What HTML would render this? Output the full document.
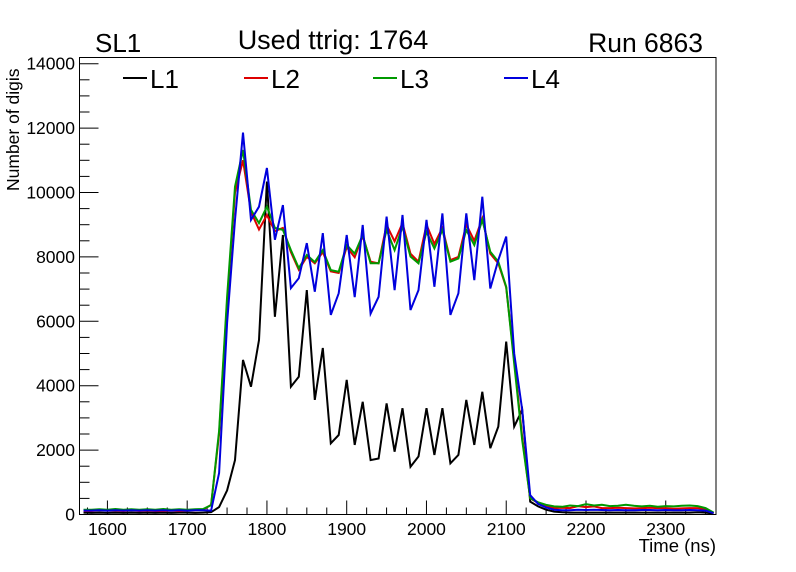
<!DOCTYPE html>
<html><head><meta charset="utf-8"><style>
html,body{margin:0;padding:0;background:#fff;}
svg{display:block;font-family:"Liberation Sans",Arial,sans-serif;}
</style></head><body>
<svg id="chart" width="796" height="572" viewBox="0 0 796 572">
<rect width="796" height="572" fill="#fff"/>
<text x="95" y="52" font-size="26">SL1</text>
<text x="333" y="49" font-size="27" text-anchor="middle">Used ttrig: 1764</text>
<text x="703" y="52" font-size="26.5" text-anchor="end">Run 6863</text>
<g id="axes"></g>
<g id="series"></g>
<rect x="79.5" y="57.5" width="636.5" height="457" fill="none" stroke="#000" stroke-width="1"/>
<text x="716" y="552" font-size="18.5" text-anchor="end">Time (ns)</text>
<text transform="translate(19,191) rotate(-90)" font-size="17.5">Number of digis</text>
<g id="legend"></g>
</svg>
<script>
const times = [];
for (let t = 1570; t <= 2360; t += 10) times.push(t);
const xTicks = [1600,1700,1800,1900,2000,2100,2200,2300];
const yTicks = [0,2000,4000,6000,8000,10000,12000,14000];
const seriesNames = ["L1","L2","L3","L4"];
const seriesColors = ["#000000","#dd0000","#009900","#0000dd"];
const L1 = [60,50,60,50,60,50,60,50,60,50,60,50,60,60,50,60,
 70,230,750,1690,4800,3970,5420,10340,6140,8680,3970,4280,6970,3560,5170,2210,2470,4180,2160,3500,1690,1740,3450,1950,3300,1480,1800,3300,1850,3300,1590,1850,3560,2160,3810,2060,2730,5370,2730,3250,400,
 250,150,90,70,60,60,60,60,60,60,60,60,60,60,60,60,60,60,60,60,70,60,30];
const L2 = [110,110,130,120,120,110,130,110,120,110,110,120,110,120,130,150,
 300,2500,6600,10000,11000,9400,8850,9300,8800,8900,8150,7600,8000,7800,8150,7550,7500,8300,7990,8650,7850,7800,8990,8480,9050,8100,7850,9000,8400,8900,7900,8000,9000,8500,9200,8100,7800,7050,4800,2400,500,
 360,260,200,210,200,260,230,250,200,200,210,200,190,200,210,200,200,180,190,200,200,160,40];
const L3 = [150,150,160,150,170,150,160,150,160,150,170,150,160,150,160,170,
 290,2600,6760,10180,11320,9460,9050,9560,8900,8840,8210,7650,8060,7840,8210,7590,7540,8370,8100,8680,7800,7800,8840,8210,8940,8010,7800,8780,8260,8840,7850,7950,8840,8370,9150,8160,7850,7070,4690,2310,500,
 380,300,250,240,280,260,320,280,300,260,270,300,270,250,270,240,260,250,270,280,260,200,60];
const L4 = [120,120,130,120,130,120,130,120,130,120,130,120,130,120,130,130,
 120,1290,5950,9150,11860,9150,9560,10760,8530,9610,7030,7340,8430,6920,8740,6200,6870,8680,6750,8990,6240,6760,9250,6970,9300,6350,6970,9150,7070,9350,6200,6870,9350,7280,9870,7020,7900,8630,5000,3250,600,
 330,220,150,130,130,150,140,150,140,130,140,130,130,140,140,130,140,130,130,140,130,120,40];
const seriesData = [L1,L2,L3,L4];

const NS="http://www.w3.org/2000/svg";
const X0=79.5,X1=716,T0=1565,T1=2363;
const Y0=514.5,Ymax=14000,YmaxPx=63.7;
function xs(t){return X0+(t-T0)*(X1-X0)/(T1-T0);}
function ys(v){return Y0-v*(Y0-YmaxPx)/Ymax;}
function mk(tag,attrs,parent){const e=document.createElementNS(NS,tag);for(const k in attrs)e.setAttribute(k,attrs[k]);parent.appendChild(e);return e;}

const axes=document.getElementById('axes');
for(let t=1575;t<=2350;t+=25){
  const major=(t%100===0);
  const l=mk('line',{x1:xs(t),x2:xs(t),y1:514.5,y2:514.5-(major?14:7),stroke:'#000','stroke-width':1},axes);
  
  
}
xTicks.forEach(t=>{
  const tx=mk('text',{x:xs(t),y:535,'font-size':17.5,'text-anchor':'middle'},axes);
  tx.textContent=t;
  
  
});
for(let v=0;v<=14000;v+=500){
  const major=(v%2000===0);
  const l=mk('line',{x1:79.5,x2:79.5+(major?19:10),y1:ys(v),y2:ys(v),stroke:'#000','stroke-width':1},axes);
  
  
}
yTicks.forEach(v=>{
  const tx=mk('text',{x:75,y:ys(v)+6,'font-size':17.5,'text-anchor':'end'},axes);
  tx.textContent=v;
  
  
});

const sg=document.getElementById('series');
seriesData.forEach((arr,i)=>{
  const pts=arr.map((v,j)=>xs(times[j]).toFixed(1)+','+ys(v).toFixed(1)).join(' ');
  const p=mk('polyline',{points:pts,fill:'none',stroke:seriesColors[i],'stroke-width':2,'stroke-linejoin':'miter'},sg);
  
  
});

const lg=document.getElementById('legend');
const legX=[123,244,373,504];
seriesNames.forEach((n,i)=>{
  const g=mk('g',{},lg);
  
  
  mk('line',{x1:legX[i],x2:legX[i]+24,y1:78,y2:78,stroke:seriesColors[i],'stroke-width':2},g);
  const t=mk('text',{x:legX[i]+27,y:88,'font-size':26},g);
  t.textContent=n;
});
</script>
</body></html>
